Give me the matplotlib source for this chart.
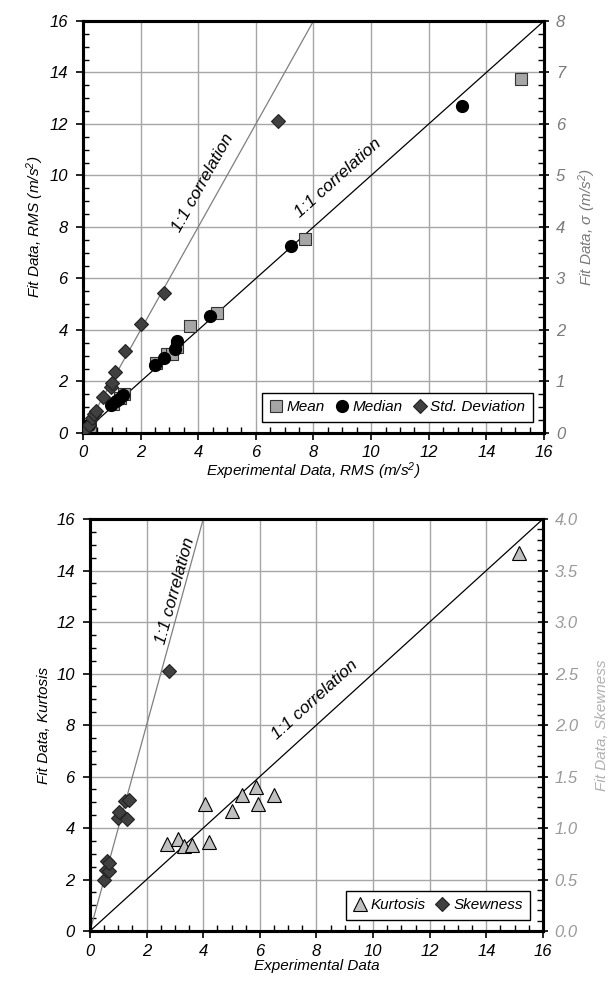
import matplotlib
matplotlib.use("Agg")
import matplotlib.pyplot as plt
from matplotlib.ticker import MultipleLocator, FormatStrFormatter

plt.rcParams['font.family'] = 'Liberation Sans'
plt.rcParams['font.style'] = 'italic'
plt.rcParams['mathtext.fontset'] = 'custom'
plt.rcParams['mathtext.it'] = 'Liberation Sans:italic'
plt.rcParams['mathtext.rm'] = 'Liberation Sans:italic'
plt.rcParams['mathtext.default'] = 'it'

# top panel: RMS values (m/s^2)
mean_x = [0.24, 1.03, 1.3, 1.42, 2.53, 2.9, 3.08, 3.27, 3.71, 4.65, 7.71, 15.2]
mean_y = [0.27, 1.13, 1.35, 1.51, 2.73, 3.07, 3.06, 3.35, 4.16, 4.67, 7.52, 13.75]
median_x = [0.22, 0.98, 1.15, 1.26, 1.40, 2.5, 2.81, 3.2, 3.25, 4.41, 7.23, 13.15]
median_y = [0.32, 1.10, 1.25, 1.32, 1.46, 2.63, 2.93, 3.27, 3.59, 4.54, 7.26, 12.7]
# std. deviation on the right axis (sigma)
std_x = [0.03, 0.2, 0.3, 0.38, 0.45, 0.69, 0.96, 1.0, 1.11, 1.46, 2.0, 2.82, 6.76]
std_y = [0.06, 0.15, 0.3, 0.37, 0.43, 0.69, 0.89, 0.98, 1.18, 1.59, 2.12, 2.71, 6.06]

# bottom panel
kurt_x = [2.71, 3.1, 3.32, 3.6, 4.19, 4.07, 5.0, 5.37, 5.87, 5.93, 6.5, 15.14]
kurt_y = [3.37, 3.57, 3.31, 3.33, 3.46, 4.93, 4.67, 5.28, 5.61, 4.93, 5.28, 14.68]
skew_x = [0.51, 0.56, 0.68, 0.59, 0.68, 1.0, 1.02, 1.3, 1.24, 1.39, 2.8]
skew_y = [0.495, 0.59, 0.58, 0.68, 0.665, 1.10, 1.16, 1.09, 1.265, 1.275, 2.52]

corr = [0, 16]
corr_steep_top = [0, 8]
corr_steep_bot = [0, 4]

grid_c = '#a6a6a6'
right_c = '#7a7a7a'
right_c2 = '#9a9a9a'


def style_axes(ax, ax2, y2max, y2major, y2minor, fmt2, c2):
    ax.set_xlim(0, 16)
    ax.set_ylim(0, 16)
    ax2.set_ylim(0, y2max)
    ax.xaxis.set_major_locator(MultipleLocator(2))
    ax.xaxis.set_minor_locator(MultipleLocator(0.5))
    ax.yaxis.set_major_locator(MultipleLocator(2))
    ax.yaxis.set_minor_locator(MultipleLocator(0.5))
    ax2.yaxis.set_major_locator(MultipleLocator(y2major))
    ax2.yaxis.set_minor_locator(MultipleLocator(y2minor))
    ax2.yaxis.set_major_formatter(FormatStrFormatter(fmt2))
    ax.grid(True, which='major', color=grid_c, lw=1)
    ax.set_axisbelow(True)
    ax.tick_params(which='major', direction='out', length=5, width=1.2, labelsize=12, pad=6)
    ax.tick_params(axis='x', which='major', pad=4)
    ax.tick_params(which='minor', direction='in', length=4, width=1)
    ax2.tick_params(which='major', direction='inout', length=7, width=1.2, labelsize=12,
                    labelcolor=c2, pad=5)
    ax2.tick_params(which='minor', direction='in', length=4, width=1)
    for a in (ax, ax2):
        for s in a.spines.values():
            s.set_linewidth(2.2)


fig = plt.figure(figsize=(6.08, 9.89), dpi=100)

# ---- top panel ----
ax = fig.add_axes([0.1365, 0.5622, 0.7582, 0.4166])
ax2 = ax.twinx()
style_axes(ax, ax2, 8, 1, 0.25, '%d', right_c)
ax.plot(corr, corr, color='black', lw=0.9, zorder=2)
ax.plot(corr_steep_top, corr, color='#7f7f7f', lw=0.9, zorder=2)
h1, = ax.plot(mean_x, mean_y, 's', ms=8.5, mfc='#a6a6a6', mec='#333333', mew=0.8,
              ls='none', label='Mean', zorder=3)
h2, = ax.plot(median_x, median_y, 'o', ms=8.5, mfc='black', mec='black',
              ls='none', label='Median', zorder=4)
h3, = ax2.plot(std_x, std_y, 'D', ms=7.5, mfc='#404040', mec='#222222', mew=0.8,
               ls='none', label='Std. Deviation', zorder=3)
ax.text(8.85, 9.9, '1:1 correlation', rotation=41.8, ha='center', va='center', fontsize=12.5)
ax.text(4.15, 9.7, '1:1 correlation', rotation=60.8, ha='center', va='center', fontsize=12.5)
ax.set_xlabel('Experimental Data, RMS (m/s$^2$)', fontsize=11, labelpad=0)
ax.set_ylabel('Fit Data, RMS (m/s$^2$)', fontsize=11, labelpad=2)
ax2.set_ylabel('Fit Data, $\\sigma$ (m/s$^2$)', fontsize=11, color=right_c, labelpad=8)
leg = ax2.legend(handles=[h1, h2, h3], loc='lower right', ncol=3, fontsize=11,
                 bbox_to_anchor=(0.976, 0.027), borderaxespad=0, fancybox=False,
                 framealpha=1, edgecolor='black', handlelength=0.8, handletextpad=0.3,
                 columnspacing=0.7, borderpad=0.5)
leg.get_frame().set_linewidth(1)

# ---- bottom panel ----
bx = fig.add_axes([0.148, 0.0586, 0.745, 0.4166])
bx2 = bx.twinx()
style_axes(bx, bx2, 4, 0.5, 0.1, '%.1f', right_c2)
bx.plot(corr, corr, color='black', lw=0.9, zorder=2)
bx.plot(corr_steep_bot, corr, color='#7f7f7f', lw=0.9, zorder=2)
k1, = bx.plot(kurt_x, kurt_y, '^', ms=9.5, mfc='#c0c0c0', mec='black', mew=0.8,
              ls='none', label='Kurtosis', zorder=3)
k2, = bx2.plot(skew_x, skew_y, 'D', ms=7.5, mfc='#404040', mec='#222222', mew=0.8,
               ls='none', label='Skewness', zorder=3)
bx.text(7.95, 9.0, '1:1 correlation', rotation=42.2, ha='center', va='center', fontsize=12.5)
bx.text(3.0, 13.2, '1:1 correlation', rotation=74.6, ha='center', va='center', fontsize=12.5)
bx.set_xlabel('Experimental Data', fontsize=11, labelpad=0)
bx.set_ylabel('Fit Data, Kurtosis', fontsize=11, labelpad=4)
bx2.set_ylabel('Fit Data, Skewness', fontsize=11, color='#b0b0b0', labelpad=12)
leg2 = bx2.legend(handles=[k1, k2], loc='lower right', ncol=2, fontsize=11,
                  bbox_to_anchor=(0.972, 0.027), borderaxespad=0, fancybox=False,
                  framealpha=1, edgecolor='black', handlelength=0.8, handletextpad=0.3,
                  columnspacing=0.7, borderpad=0.5)
leg2.get_frame().set_linewidth(1)

fig.savefig('out.png', dpi=100)
